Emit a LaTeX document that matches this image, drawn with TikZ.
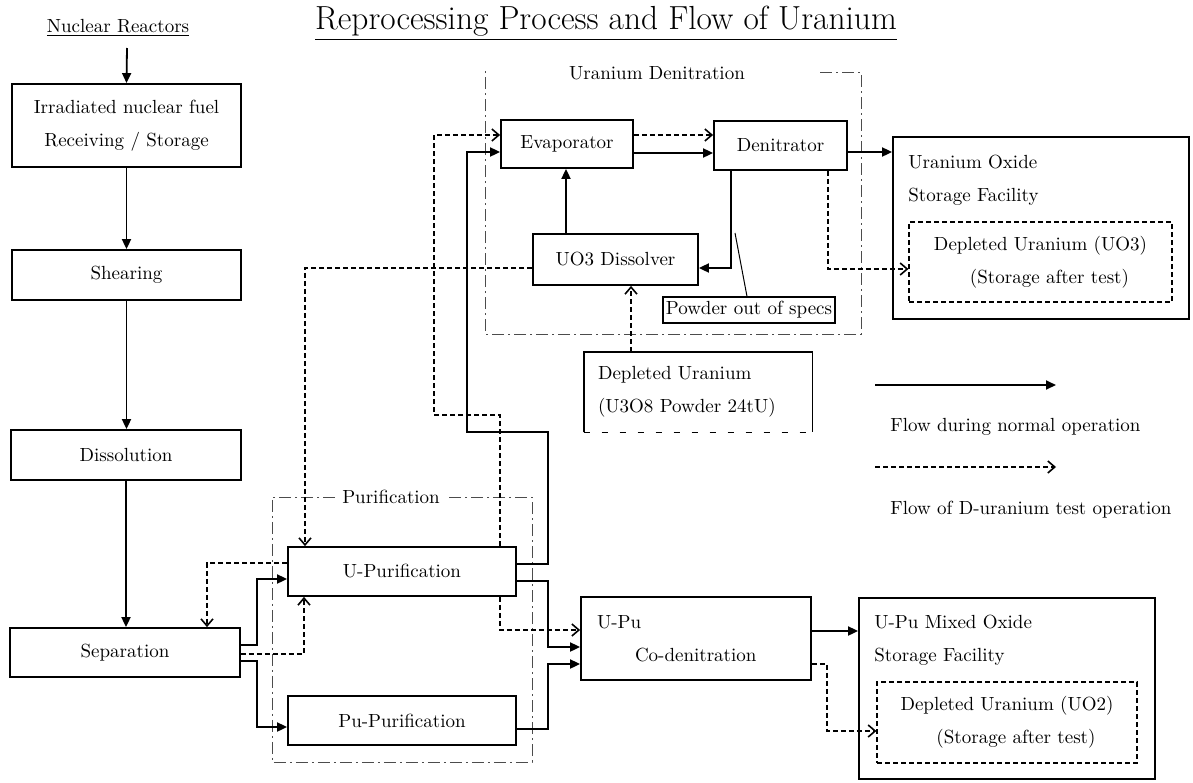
\documentclass[tikz,border=0pt]{standalone}
\usetikzlibrary{arrows.meta, calc, positioning}

\tikzset{
  procbox/.style={draw, line width=0.9pt, inner sep=0pt, align=center},
  testbox/.style={draw, line width=0.6pt, dash pattern=on 2.5pt off 1.5pt, inner sep=0pt, align=center},
  zone/.style={line width=0.5pt, black!70, dash pattern=on 6pt off 2pt on 1pt off 2pt},
  flow/.style={line width=0.9pt, -{Triangle[length=5pt,width=4.5pt]}},
  testflow/.style={line width=0.8pt, dash pattern=on 2.5pt off 1.5pt, -{Straight Barb[length=3.5pt,width=6pt]}},
}

\begin{document}
\begin{tikzpicture}[x=0.5pt, y=-0.5pt, font=\fontsize{9.5}{16.5}\selectfont]
\useasboundingbox (0,0) rectangle (1193,782);

% titles
\node (title) at (606,23) {\fontsize{16.7}{20}\selectfont\underline{Reprocessing Process and Flow of Uranium}};
\node (reactors) at (118,28) {\underline{Nuclear Reactors}};
\coordinate (feed) at (127,48);

% head end
\node[procbox, minimum width=114.5pt, minimum height=41.5pt] (fuel) at (126.5,125.5) {Irradiated nuclear fuel\\Receiving / Storage};
\node[procbox, minimum width=114.5pt, minimum height=25pt] (shear) at (126.5,275) {Shearing};
\node[procbox, minimum width=115pt, minimum height=25pt] (dissol) at (126,455) {Dissolution};
\node[procbox, minimum width=115pt, minimum height=24.5pt] (sep) at (125,652.5) {Separation};

% purification
\node[procbox, minimum width=114pt, minimum height=24.5pt] (upur) at (402,571.5) {U-Purification};
\node[procbox, minimum width=114pt, minimum height=24.5pt] (pupur) at (402,720.5) {Pu-Purification};
\node (purlbl) at (391,497) {Purification};
\draw[zone] (purlbl.west) -- (272,497) -- (272,762) -- (532,762) -- (532,497) -- (purlbl.east);

% uranium denitration
\node[procbox, minimum width=66pt, minimum height=24pt] (evap) at (567,144) {Evaporator};
\node[procbox, minimum width=66.5pt, minimum height=24.5pt] (denit) at (780.5,145.5) {Denitrator};
\node[procbox, minimum width=82.5pt, minimum height=25.5pt] (dissolver) at (615.5,259.5) {UO3 Dissolver};
\node[draw, line width=0.6pt, inner sep=0pt, minimum width=86pt, minimum height=13pt] (spec) at (749,310) {Powder out of specs};
\coordinate (specpt) at (735,233);
\node (denitlbl) at (657,73) {Uranium Denitration};
\draw[zone] (820,72) -- (861,72) -- (861,334) -- (485,334) -- (485,70);

% depleted uranium feed
\node[inner xsep=7pt, text width=100pt, minimum height=40pt, align=left] (depl) at (698,392) {Depleted Uranium\\(U3O8 Powder 24tU)};
\draw[line width=0.9pt] (depl.south west) |- (depl.north east) -- (depl.south east);
\draw[line width=0.6pt, dash pattern=on 3pt off 6pt] (depl.south west) -- (depl.south east);

% co-denitration
\node[procbox, minimum width=115pt, minimum height=41.5pt, text width=99pt, align=left] (upu) at (696,638.5) {U-Pu\\\hspace*{19pt}Co-denitration};

% storage
\node[draw, line width=0.9pt, minimum width=148pt, minimum height=91pt] (uox) at (1041,228) {};
\node[anchor=west, align=left, inner sep=0pt] (uoxlbl) at (908,180) {Uranium Oxide\\Storage Facility};
\node[testbox, minimum width=131.5pt, minimum height=40pt] (uoxin) at (1040.5,262) {Depleted Uranium (UO3)\\\hspace*{9pt}(Storage after test)};
\node[draw, line width=0.9pt, minimum width=148pt, minimum height=90.5pt] (mox) at (1007,688.5) {};
\node[anchor=west, align=left, inner sep=0pt] (moxlbl) at (874,640) {U-Pu Mixed Oxide\\Storage Facility};
\node[testbox, minimum width=130pt, minimum height=40.5pt] (moxin) at (1007,722.5) {Depleted Uranium (UO2)\\\hspace*{9pt}(Storage after test)};

% normal flow
\draw[flow] (feed) -- (fuel.north);
\draw[flow] (fuel.south) -- (shear.north);
\draw[flow] (shear.south) -- (dissol.north -| shear.south);
\draw[flow] (dissol.south) -- (sep.north -| dissol.south);
\draw[flow] (sep.east |- 0,645) -- ++(16,0) |- (upur.west |- 0,579);
\draw[flow] (sep.east |- 0,661) -- ++(16,0) |- (pupur.west |- 0,727);
\draw[flow] (upur.east |- 0,564) -- (548,564) -- (548,432) -- (467,432) -- (467,152) -- (evap.west |- 0,152);
\draw[flow] (upur.east |- 0,581) -- (548,581) |- (upu.west |- 0,647);
\draw[flow] (pupur.east |- 0,729) -- (548,729) |- (upu.west |- 0,664);
\draw[flow] (evap.east |- 0,153) -- (denit.west |- 0,153);
\draw[flow] (denit.east |- 0,152) -- (uox.west |- 0,152);
\draw[flow] (denit.south -| 731,0) |- (dissolver.east |- 0,268);
\draw[flow] (dissolver.north -| 566,0) -- (evap.south -| 566,0);
\draw[flow] (upu.east |- 0,631) -- (mox.west |- 0,631);
\draw[line width=0.5pt] (spec.north -| 747,0) -- (specpt);

% test flow
\draw[testflow] (upur.west |- 0,563) -| (sep.north -| 207,0);
\draw[testflow] (sep.east |- 0,654) -| (upur.south -| 304,0);
\draw[testflow] (dissolver.west |- 0,268) -| (upur.north -| 305,0);
\draw[testflow] (upur.north -| 500,0) -- (500,415) -- (434,415) -- (434,135) -- (evap.west |- 0,135);
\draw[testflow] (upur.south -| 500,0) |- (upu.west |- 0,630);
\draw[testflow] (evap.east |- 0,135) -- (denit.west |- 0,135);
\draw[testflow] (denit.south -| 828,0) |- (uoxin.west |- 0,269);
\draw[testflow] (depl.north -| 631,0) -- (dissolver.south -| 631,0);
\draw[testflow] (upu.east |- 0,664) -- (827,664) |- (moxin.west |- 0,731);

% legend
\coordinate (legsolidA) at (875,385);
\coordinate (legsolidB) at (1056,385);
\coordinate (legdashA) at (875,467);
\coordinate (legdashB) at (1056,467);
\draw[flow] (legsolidA) -- (legsolidB);
\draw[testflow] (legdashA) -- (legdashB);
\node[anchor=west, inner sep=0pt] (legnormal) at (890,427) {Flow during normal operation};
\node[anchor=west, inner sep=0pt] (legtest) at (890,510) {Flow of D-uranium test operation};
\end{tikzpicture}
\end{document}
